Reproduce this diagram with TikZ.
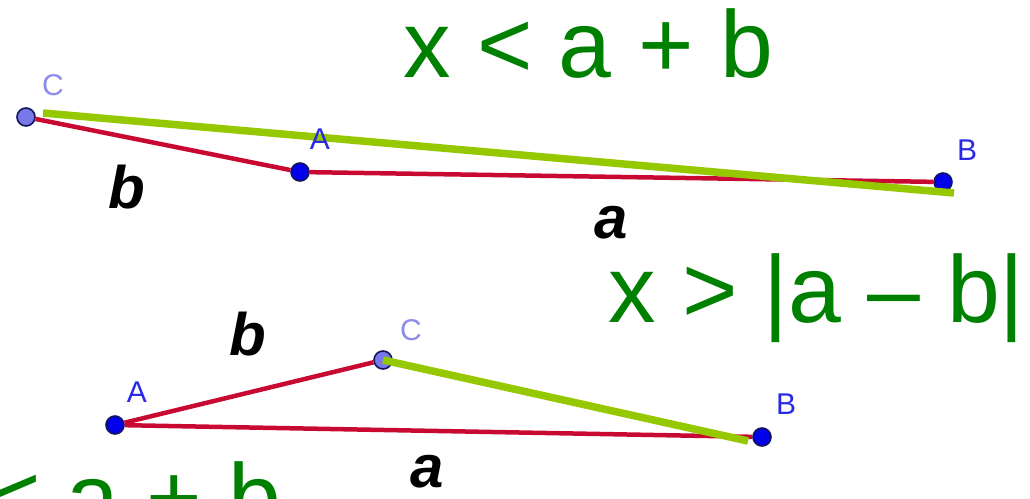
\documentclass[tikz,border=0pt]{standalone}
\usepackage{fontspec}
\setmainfont{Liberation Sans}
\definecolor{txtgreen}{RGB}{0,128,0}
\definecolor{lingreen}{RGB}{150,200,0}
\definecolor{segred}{RGB}{200,10,50}
\definecolor{ptblue}{RGB}{0,0,235}
\definecolor{ptlight}{RGB}{120,120,235}
\definecolor{ptedge}{RGB}{20,20,90}
\definecolor{lblblue}{RGB}{40,40,230}
\definecolor{lbllight}{RGB}{140,140,235}
\tikzset{
  ptdark/.style={circle,fill=ptblue,draw=ptedge,line width=1.6pt,minimum size=18pt,inner sep=0pt},
  ptpale/.style={circle,fill=ptlight,draw=ptedge,line width=1.6pt,minimum size=18pt,inner sep=0pt},
  seg/.style={segred,line width=4.5pt},
  xline/.style={lingreen,line width=7.5pt},
  ptlbl/.style={text=lblblue,font=\fontsize{30}{30}\selectfont,inner sep=0pt},
  ptlblc/.style={text=lbllight,font=\fontsize{30}{30}\selectfont,inner sep=0pt},
  sidelbl/.style={font=\fontsize{60}{60}\selectfont\bfseries\itshape,inner sep=0pt,anchor=base},
  ineq/.style={text=txtgreen,font=\fontsize{95}{95}\selectfont,inner sep=0pt,anchor=base west}
}
\begin{document}
\begin{tikzpicture}[x=1pt,y=-1pt]
\useasboundingbox (0,0) rectangle (1030,498);
\clip (0,0) rectangle (1030,498);
% top triangle
\coordinate (g1s) at (43,113);
\coordinate (g1e) at (954,193);
\node[ptpale] (C1) at (26,117) {};
\node[ptdark] (A1) at (300,172) {};
\node[ptdark] (B1) at (943,182) {};
\draw[seg] (C1) -- (A1);
\draw[seg] (A1) -- (B1);
\draw[xline] (g1s) -- (g1e);
\node[ptlblc] (lC1) at (53,85) {C};
\node[ptlbl] (lA1) at (320,139) {A};
\node[ptlbl] (lB1) at (967,150) {B};
\node[sidelbl] (b1) at (127,208) {b};
\node[sidelbl] (a1) at (611,238) {a};
% bottom triangle
\coordinate (g2e) at (748,441);
\node[ptdark] (A2) at (115,425) {};
\node[ptpale] (C2) at (383,360) {};
\node[ptdark] (B2) at (762,437) {};
\draw[seg] (A2) -- (C2);
\draw[seg] (A2) -- (B2);
\draw[xline] (C2.center) -- (g2e);
\node[ptlblc] (lC2) at (411,330) {C};
\node[ptlbl] (lA2) at (137,392) {A};
\node[ptlbl] (lB2) at (786,404) {B};
\node[sidelbl] (b2) at (248,355) {b};
\node[sidelbl] (a2) at (427,487) {a};
% inequalities
\node[ineq] (t1) at (403,77) {x < a + b};
\node[ineq] (t2) at (608,322) {x > |a – b|};
\node[ineq] (t3) at (-89,530) {x < a + b};
\end{tikzpicture}
\end{document}
